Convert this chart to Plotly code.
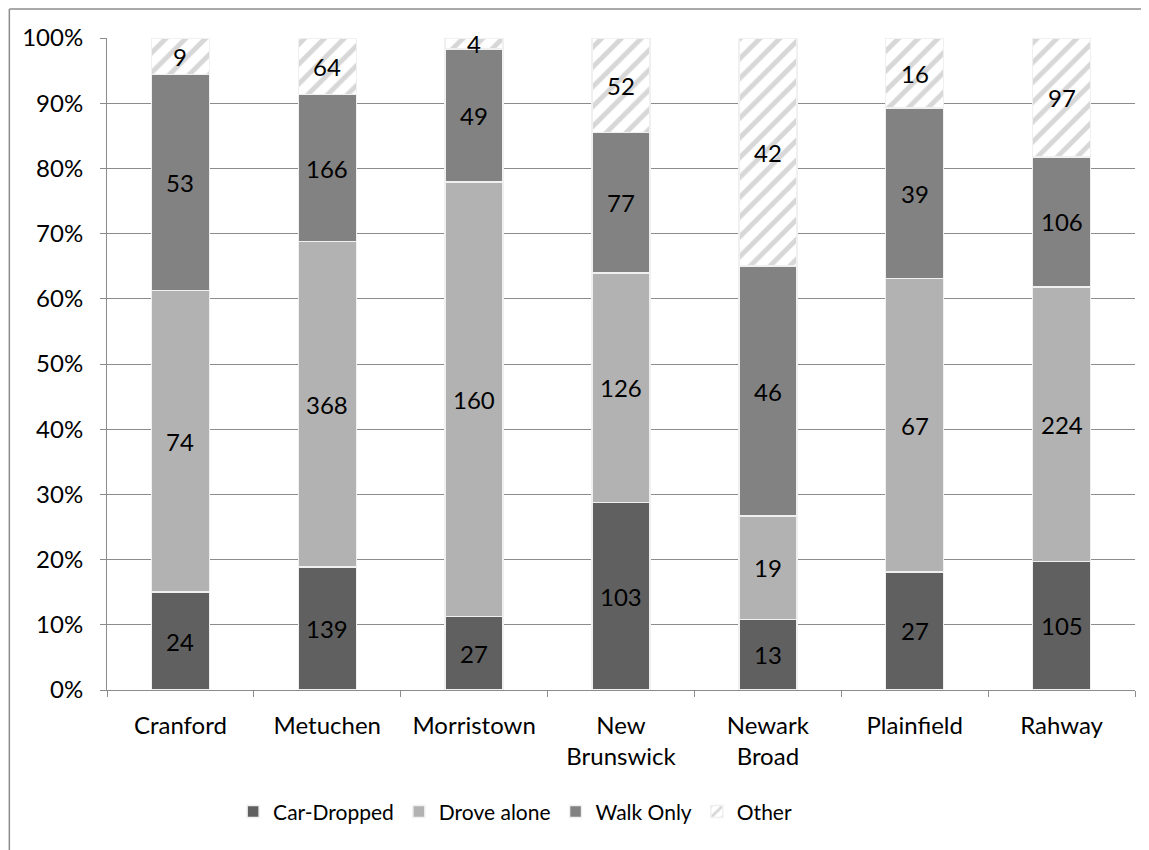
import plotly.graph_objects as go

stations = ["Cranford", "Metuchen", "Morristown", "New<br>Brunswick", "Newark<br>Broad", "Plainfield", "Rahway"]
car_dropped = [24, 139, 27, 103, 13, 27, 105]
drove_alone = [74, 368, 160, 126, 19, 67, 224]
walk_only = [53, 166, 49, 77, 46, 39, 106]
other = [9, 64, 4, 52, 42, 16, 97]
y_ticks = [0, 10, 20, 30, 40, 50, 60, 70, 80, 90, 100]
y_tick_labels = [f"{v}%" for v in y_ticks]

FONT = "Lato, 'Open Sans', sans-serif"
FS = 24
series = [
    ("Car-Dropped", car_dropped, dict(color="#606060")),
    ("Drove alone", drove_alone, dict(color="#b2b2b2")),
    ("Walk Only", walk_only, dict(color="#828282")),
    ("Other", other, dict(color="white", pattern=dict(shape="/", fgcolor="#b0b0b0", bgcolor="white", size=14, solidity=0.35))),
]

fig = go.Figure()
for name, vals, marker in series:
    fig.add_trace(go.Bar(
        name=name, x=stations, y=vals,
        marker=dict(line=dict(color="#f0f0f0", width=1.5), **marker),
        hoverinfo="skip",
    ))

# value labels centred on each stacked segment (percent-normalised positions)
totals = [sum(v) for v in zip(car_dropped, drove_alone, walk_only, other)]
cum = [0] * len(stations)
for name, vals, marker in series:
    for i, v in enumerate(vals):
        mid = (cum[i] + v / 2) / totals[i] * 100
        fig.add_annotation(x=stations[i], y=mid, text=str(v), showarrow=False,
                           font=dict(size=FS, family=FONT, color="black"))
        cum[i] += v

fig.update_layout(
    width=1141, height=842,
    barmode="stack", barnorm="percent", bargap=0.605,
    paper_bgcolor="white", plot_bgcolor="white",
    margin=dict(l=99, r=14, t=30, b=160),
    font=dict(family=FONT, size=FS, color="black"),
    showlegend=True,
    legend=dict(orientation="h", x=0.397, xanchor="center", y=-0.187, yanchor="middle",
                font=dict(size=21, family=FONT), traceorder="normal", itemwidth=30),
    xaxis=dict(showline=True, linecolor="#8c8c8c", linewidth=1, ticks="outside",
               tickson="boundaries", ticklen=6, tickcolor="#8c8c8c", showgrid=False,
               tickfont=dict(size=FS), ticklabelstandoff=14),
    yaxis=dict(range=[0, 100], tickvals=y_ticks, ticktext=y_tick_labels,
               showline=True, linecolor="#8c8c8c", linewidth=1, ticks="outside",
               ticklen=6, tickcolor="#8c8c8c", showgrid=True, gridcolor="#8c8c8c",
               gridwidth=1, tickfont=dict(size=FS), ticklabelstandoff=12, zeroline=False),
)

# outer chart border (top and left edges visible)
fig.add_shape(type="line", xref="paper", yref="paper", x0=-0.095, x1=1.05, y0=1.0445, y1=1.0445,
              line=dict(color="#8c8c8c", width=1.5))
fig.add_shape(type="line", xref="paper", yref="paper", x0=-0.095, x1=-0.095, y0=1.0445, y1=-0.3,
              line=dict(color="#8c8c8c", width=1.5))

fig.write_html("out.html")
